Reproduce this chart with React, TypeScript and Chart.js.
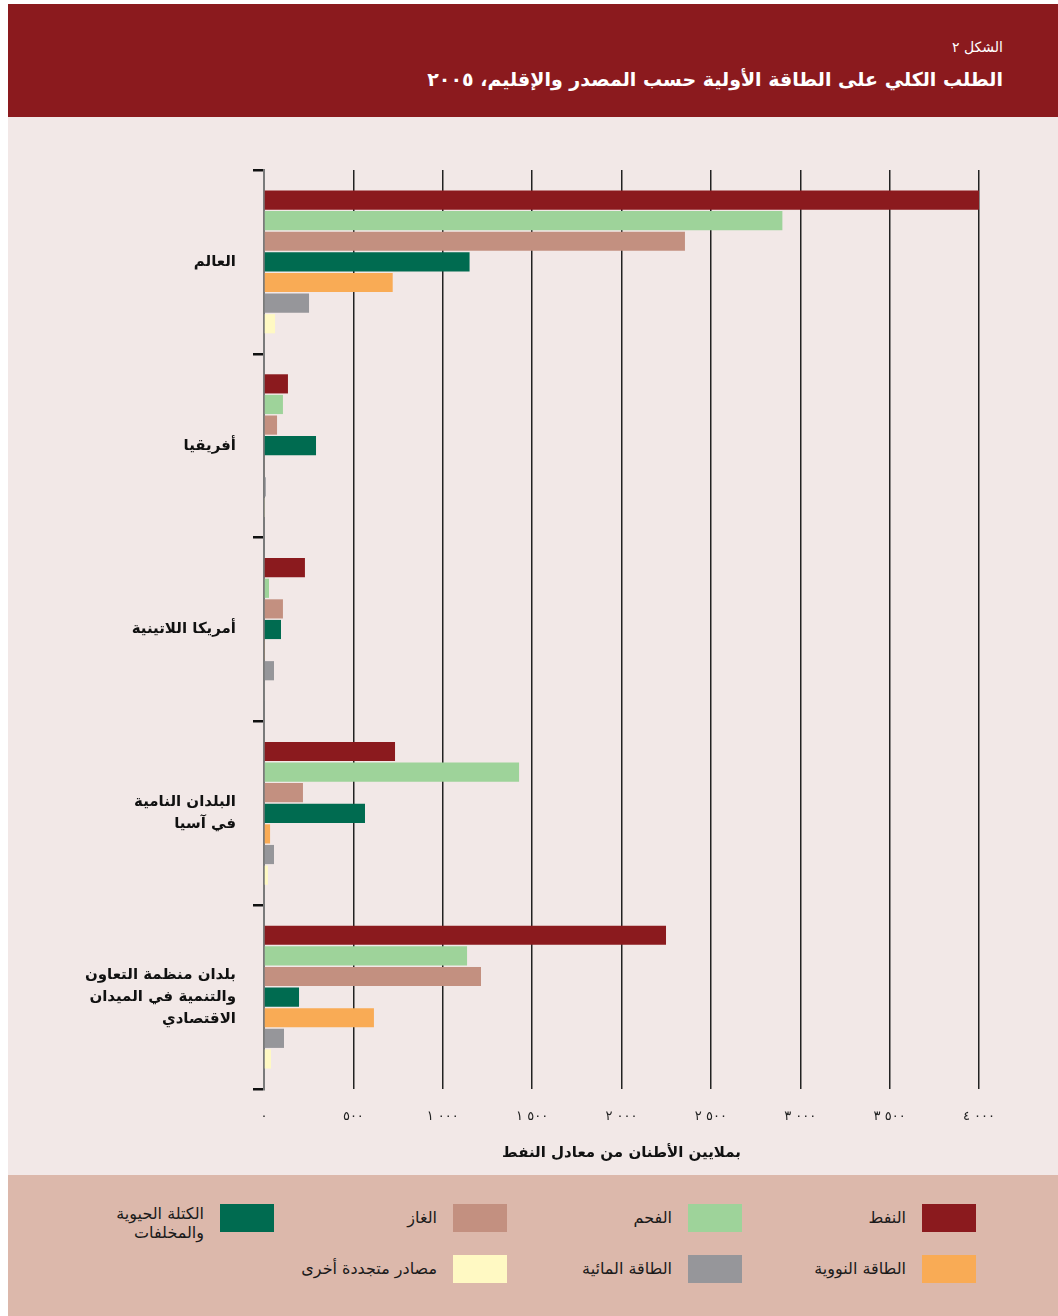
import React, { useEffect, useRef } from "react";
import { Chart, registerables } from "chart.js";

Chart.register(...registerables);

const figureLabel = "الشكل ٢";
const title = "الطلب الكلي على الطاقة الأولية حسب المصدر والإقليم، ٢٠٠٥";
const axisTitle = "بملايين الأطنان من معادل النفط";

const categories: (string | string[])[] = [
  "العالم",
  "أفريقيا",
  "أمريكا اللاتينية",
  ["البلدان النامية", "في آسيا"],
  ["بلدان منظمة التعاون", "والتنمية في الميدان", "الاقتصادي"],
];

// LRM marks keep the digit groups in reading order
const tickLabels = [
  "٠",
  "٥٠٠",
  "\u200E١\u200E \u200E٠٠٠\u200E",
  "\u200E١\u200E \u200E٥٠٠\u200E",
  "\u200E٢\u200E \u200E٠٠٠\u200E",
  "\u200E٢\u200E \u200E٥٠٠\u200E",
  "\u200E٣\u200E \u200E٠٠٠\u200E",
  "\u200E٣\u200E \u200E٥٠٠\u200E",
  "\u200E٤\u200E \u200E٠٠٠\u200E",
];

const seriesNames = [
  "النفط",
  "الفحم",
  "الغاز",
  ["الكتلة الحيوية", "والمخلفات"],
  "الطاقة النووية",
  "الطاقة المائية",
  "مصادر متجددة أخرى",
];
const seriesColors = ["#8b1a1e", "#9ed39a", "#c39080", "#006b50", "#f9ab55", "#96969a", "#fff9c3"];

const oil = [4000, 134, 229, 733, 2249];
const coal = [2900, 106, 28, 1427, 1136];
const gas = [2355, 73, 106, 218, 1214];
const biomass = [1150, 291, 95, 565, 196];
const nuclear = [720, 4, 5, 34, 615];
const hydro = [252, 10, 56, 56, 112];
const otherRenew = [62, 3, 4, 22, 39];

const seriesValues = [oil, coal, gas, biomass, nuclear, hydro, otherRenew];

const FONT = "'DejaVu Sans', 'Noto Sans', sans-serif";

export default function App() {
  const ref = useRef<HTMLCanvasElement | null>(null);

  useEffect(() => {
    if (!ref.current) return;
    const chart = new Chart(ref.current, {
      type: "bar",
      data: {
        labels: categories,
        datasets: seriesValues.map((vals, i) => ({
          label: Array.isArray(seriesNames[i]) ? (seriesNames[i] as string[]).join(" ") : (seriesNames[i] as string),
          data: vals,
          backgroundColor: seriesColors[i],
          borderWidth: 0,
          categoryPercentage: 0.785,
          barPercentage: 0.93,
        })),
      },
      options: {
        indexAxis: "y",
        animation: false,
        responsive: true,
        maintainAspectRatio: false,
        layout: { padding: { top: 53, right: 79, left: 0, bottom: 0 } },
        plugins: {
          legend: { display: false },
          tooltip: { enabled: false },
          title: { display: false },
        },
        scales: {
          x: {
            type: "linear",
            min: 0,
            max: 4000,
            ticks: {
              stepSize: 500,
              padding: 20,
              color: "#222",
              font: { family: FONT, size: 13 },
              callback: (_v: any, idx: number) => tickLabels[idx],
            },
            grid: {
              drawTicks: false,
              tickLength: 0,
              color: (ctx: any) => (ctx.index === 0 ? "rgba(0,0,0,0)" : "#222"),
              lineWidth: 1.5,
            },
            border: { display: false },
            title: {
              display: true,
              text: axisTitle,
              color: "#111",
              font: { family: FONT, size: 15, weight: "bold" },
              padding: { top: 0, bottom: 13 },
            },
            afterFit: (scale: any) => {
              scale.height = 86;
            },
          },
          y: {
            type: "category",
            ticks: {
              padding: 17,
              color: "#111",
              font: { family: FONT, size: 15, weight: "bold", lineHeight: 1.45 },
            },
            grid: {
              offset: true,
              drawOnChartArea: false,
              drawTicks: true,
              tickLength: 11,
              color: "#111",
              lineWidth: 2.5,
            },
            border: { display: true, color: "#7a7a7a", width: 2 },
            afterFit: (scale: any) => {
              scale.width = 256;
            },
          },
        },
      },
    });
    return () => chart.destroy();
  }, []);

  const colLefts = [914, 680, 445, 212];
  const rowTops = [29, 80];

  return (
    <div style={{ position: "fixed", left: 0, top: 0, width: 1058, height: 1316, background: "#fff", fontFamily: FONT }}>
      <div
        style={{
          position: "absolute",
          left: 8,
          top: 4,
          width: 1050,
          height: 113,
          background: "#8b1a1e",
          color: "#fff",
          direction: "rtl",
        }}
      >
        <div style={{ position: "absolute", right: 55, top: 33, fontSize: 14, lineHeight: "20px" }}>{figureLabel}</div>
        <div style={{ position: "absolute", right: 55, top: 61, fontSize: 19, fontWeight: "bold", lineHeight: "28px", whiteSpace: "nowrap" }}>
          {title}
        </div>
      </div>
      <div style={{ position: "absolute", left: 8, top: 117, width: 1050, height: 1058, background: "#f2e8e7" }}>
        <canvas ref={ref} />
      </div>
      <div style={{ position: "absolute", left: 8, top: 1175, width: 1050, height: 141, background: "#dcb8ab" }}>
        {seriesNames.map((name, i) => {
          const row = Math.floor(i / 4);
          const col = i % 4;
          const left = colLefts[col];
          const top = rowTops[row];
          const multi = Array.isArray(name);
          return (
            <React.Fragment key={i}>
              <div style={{ position: "absolute", left, top, width: 54, height: 28, background: seriesColors[i] }} />
              <div
                style={{
                  position: "absolute",
                  right: 1050 - left + 16,
                  top: multi ? top : top + 2,
                  direction: "rtl",
                  textAlign: "right",
                  fontSize: 16,
                  lineHeight: multi ? "19px" : "24px",
                  color: "#1a1a1a",
                  whiteSpace: "nowrap",
                }}
              >
                {multi ? (name as string[]).map((l, k) => <div key={k}>{l}</div>) : (name as string)}
              </div>
            </React.Fragment>
          );
        })}
      </div>
    </div>
  );
}
